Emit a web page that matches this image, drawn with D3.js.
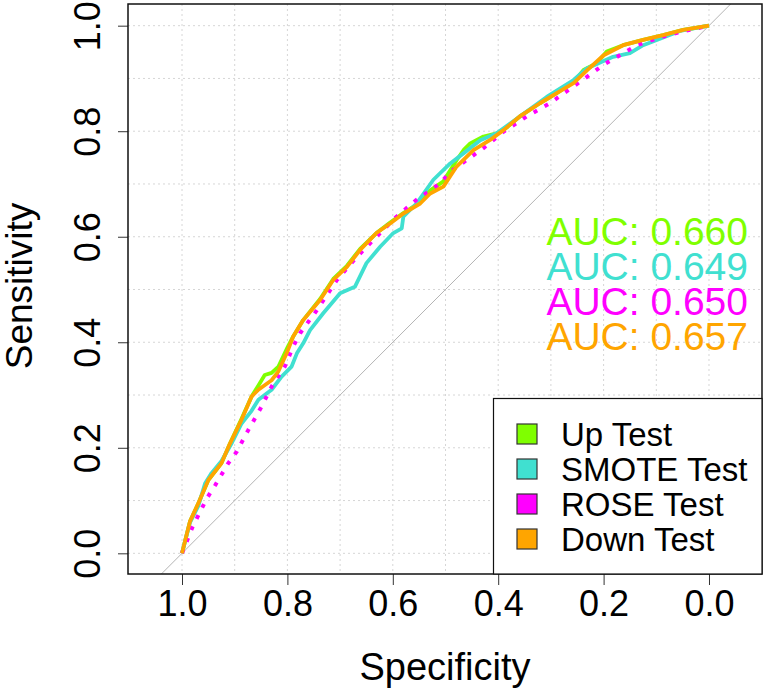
<!DOCTYPE html>
<html>
<head>
<meta charset="utf-8">
<script src="https://cdn.jsdelivr.net/npm/d3@7"></script>
<style>
	body { margin: 0; background: #fff; }
	svg { display: block; }
</style>
</head>
<body>
<div id="chart"></div>
<script>
// ROC curves, specificity on a reversed x axis

const width = 763;
const height = 691;
const plotBox = { left: 128, right: 762, top: 4, bottom: 574 };

const seriesNames = ["Up Test", "SMOTE Test", "ROSE Test", "Down Test"];
const seriesColors = ["#7FFF00", "#40E0D0", "#FF00FF", "#FFA500"];
const aucLabels = ["AUC: 0.660", "AUC: 0.649", "AUC: 0.650", "AUC: 0.657"];
const tickValues = [1.0, 0.8, 0.6, 0.4, 0.2, 0.0];
const gridValues = [0, 0.1, 0.2, 0.3, 0.4, 0.5, 0.6, 0.7, 0.8, 0.9, 1.0];

// [specificity, sensitivity]
const upTest = [[1,0],[0.985,0.06],[0.969,0.095],[0.95,0.139],[0.925,0.171],[0.909,0.208],[0.887,0.255],[0.868,0.297],[0.855,0.318],[0.843,0.338],[0.83,0.342],[0.817,0.354],[0.8,0.39],[0.789,0.411],[0.77,0.442],[0.738,0.482],[0.713,0.52],[0.687,0.545],[0.662,0.577],[0.631,0.607],[0.605,0.627],[0.58,0.645],[0.548,0.665],[0.529,0.688],[0.504,0.705],[0.479,0.745],[0.465,0.765],[0.453,0.777],[0.428,0.79],[0.403,0.796],[0.39,0.802],[0.359,0.828],[0.321,0.853],[0.289,0.872],[0.257,0.893],[0.238,0.916],[0.213,0.929],[0.194,0.951],[0.163,0.963],[0.125,0.973],[0.087,0.982],[0.049,0.992],[0,1]];
const smoteTest = [[1,0],[0.985,0.058],[0.969,0.09],[0.956,0.133],[0.944,0.152],[0.925,0.175],[0.905,0.21],[0.887,0.246],[0.868,0.27],[0.855,0.291],[0.83,0.31],[0.811,0.335],[0.792,0.354],[0.782,0.379],[0.77,0.398],[0.757,0.423],[0.732,0.455],[0.7,0.493],[0.672,0.505],[0.65,0.55],[0.624,0.581],[0.599,0.607],[0.583,0.616],[0.58,0.638],[0.555,0.663],[0.523,0.708],[0.491,0.739],[0.466,0.758],[0.434,0.783],[0.403,0.796],[0.359,0.828],[0.308,0.865],[0.257,0.897],[0.232,0.919],[0.182,0.941],[0.15,0.948],[0.125,0.963],[0.099,0.973],[0.055,0.99],[0,1]];
const roseTest = [[1,0],[0.98,0.05],[0.965,0.08],[0.953,0.104],[0.937,0.129],[0.912,0.171],[0.896,0.193],[0.874,0.234],[0.849,0.278],[0.83,0.316],[0.805,0.354],[0.789,0.392],[0.776,0.417],[0.744,0.461],[0.706,0.518],[0.668,0.562],[0.624,0.607],[0.593,0.638],[0.555,0.67],[0.51,0.701],[0.491,0.723],[0.428,0.768],[0.39,0.799],[0.346,0.828],[0.302,0.853],[0.264,0.88],[0.226,0.907],[0.2,0.926],[0.169,0.944],[0.137,0.963],[0.099,0.976],[0.055,0.988],[0,1]];
const downTest = [[1,0],[0.985,0.06],[0.969,0.095],[0.95,0.139],[0.925,0.171],[0.909,0.208],[0.887,0.253],[0.868,0.297],[0.855,0.31],[0.83,0.328],[0.817,0.345],[0.801,0.38],[0.789,0.411],[0.77,0.442],[0.738,0.48],[0.713,0.518],[0.687,0.543],[0.662,0.575],[0.631,0.607],[0.605,0.625],[0.58,0.644],[0.548,0.663],[0.529,0.682],[0.504,0.695],[0.479,0.733],[0.447,0.764],[0.416,0.783],[0.39,0.802],[0.359,0.828],[0.321,0.853],[0.289,0.872],[0.257,0.891],[0.232,0.915],[0.2,0.944],[0.163,0.963],[0.125,0.973],[0.087,0.982],[0.049,0.992],[0,1]];

const seriesData = [upTest, smoteTest, roseTest, downTest];
const seriesDash = [null, null, "4,8.5", null];

const font = "'Liberation Sans', Arial, sans-serif";

let svg;

const x = d3.scaleLinear()
	.domain([1.10247, -0.10057])
	.range([plotBox.left, plotBox.right]);

const y = d3.scaleLinear()
	.domain([-0.0392, 1.0411])
	.range([plotBox.bottom, plotBox.top]);

function configureChart() {
	svg = d3.select("#chart").append("svg")
		.attr("width", width)
		.attr("height", height)
		.attr("viewBox", [0, 0, width, height])
		.style("font-family", font);

	svg.append("rect")
		.attr("width", width)
		.attr("height", height)
		.attr("fill", "#fff");

	svg.append("clipPath")
		.attr("id", "plot-clip")
		.append("rect")
		.attr("x", plotBox.left)
		.attr("y", plotBox.top)
		.attr("width", plotBox.right - plotBox.left)
		.attr("height", plotBox.bottom - plotBox.top);
}

function drawGrid() {
	const grid = svg.append("g")
		.attr("stroke", "#d6d6d6")
		.attr("stroke-width", 1)
		.attr("stroke-dasharray", "2,3");

	grid.selectAll("line.vgrid")
		.data(gridValues)
		.join("line")
		.attr("class", "vgrid")
		.attr("x1", d => x(d))
		.attr("x2", d => x(d))
		.attr("y1", plotBox.top)
		.attr("y2", plotBox.bottom);

	grid.selectAll("line.hgrid")
		.data(gridValues)
		.join("line")
		.attr("class", "hgrid")
		.attr("x1", plotBox.left)
		.attr("x2", plotBox.right)
		.attr("y1", d => y(d))
		.attr("y2", d => y(d));

	// chance diagonal, clipped to the box
	const ends = [x.domain()[0], x.domain()[1]];
	svg.append("line")
		.attr("clip-path", "url(#plot-clip)")
		.attr("x1", x(ends[0]))
		.attr("y1", y(1 - ends[0]))
		.attr("x2", x(ends[1]))
		.attr("y2", y(1 - ends[1]))
		.attr("stroke", "#b4b4b4")
		.attr("stroke-width", 1);
}

function drawCurves() {
	const line = d3.line()
		.x(d => x(d[0]))
		.y(d => y(d[1]));

	svg.append("g")
		.attr("clip-path", "url(#plot-clip)")
		.selectAll("path")
		.data(seriesData)
		.join("path")
		.attr("d", line)
		.attr("fill", "none")
		.attr("stroke", (d, i) => seriesColors[i])
		.attr("stroke-width", (d, i) => i === 2 ? 4 : 3.8)
		.attr("stroke-linejoin", "round")
		.attr("stroke-dasharray", (d, i) => seriesDash[i]);
}

function drawAxes() {
	svg.append("g")
		.attr("transform", `translate(0,${plotBox.bottom})`)
		.call(d3.axisBottom(x).tickValues(tickValues).tickFormat(d3.format(".1f")).tickSize(11).tickPadding(5))
		.call(g => g.select(".domain").remove())
		.call(g => g.selectAll(".tick line").attr("stroke", "#333"))
		.call(g => g.selectAll("text")
			.attr("font-family", font)
			.attr("font-size", 36)
			.attr("fill", "#000"));

	const yAxis = svg.append("g")
		.attr("transform", `translate(${plotBox.left},0)`)
		.call(d3.axisLeft(y).tickValues(tickValues).tickFormat(d3.format(".1f")).tickSize(10))
		.call(g => g.select(".domain").remove())
		.call(g => g.selectAll(".tick line").attr("stroke", "#333"));

	yAxis.selectAll("text")
		.attr("font-family", font)
		.attr("font-size", 36)
		.attr("fill", "#000")
		.attr("x", null)
		.attr("dy", null)
		.attr("text-anchor", "middle")
		.attr("transform", `translate(${100 - plotBox.left},0) rotate(-90)`);

	svg.append("rect")
		.attr("x", plotBox.left)
		.attr("y", plotBox.top)
		.attr("width", plotBox.right - plotBox.left)
		.attr("height", plotBox.bottom - plotBox.top)
		.attr("fill", "none")
		.attr("stroke", "#111")
		.attr("stroke-width", 1.5);

	svg.append("text")
		.attr("x", (plotBox.left + plotBox.right) / 2)
		.attr("y", 680)
		.attr("text-anchor", "middle")
		.attr("font-size", 38)
		.text("Specificity");

	svg.append("text")
		.attr("transform", `translate(32,${(plotBox.top + plotBox.bottom) / 2 - 3}) rotate(-90)`)
		.attr("text-anchor", "middle")
		.attr("font-size", 37)
		.text("Sensitivity");
}

function drawLabels() {
	svg.append("g")
		.selectAll("text")
		.data(aucLabels)
		.join("text")
		.attr("x", 748)
		.attr("y", (d, i) => 245 + i * 35)
		.attr("text-anchor", "end")
		.attr("font-size", 39)
		.attr("fill", (d, i) => seriesColors[i])
		.text(d => d);

	const legend = svg.append("g");

	legend.append("rect")
		.attr("x", 493.5)
		.attr("y", 398.5)
		.attr("width", plotBox.right - 493.5)
		.attr("height", plotBox.bottom - 398.5)
		.attr("fill", "#fff")
		.attr("stroke", "#111")
		.attr("stroke-width", 1.2);

	const rows = legend.selectAll("g.row")
		.data(seriesNames)
		.join("g")
		.attr("class", "row")
		.attr("transform", (d, i) => `translate(0,${434 + i * 35})`);

	rows.append("rect")
		.attr("x", 517)
		.attr("y", -10)
		.attr("width", 20)
		.attr("height", 20)
		.attr("fill", (d, i) => seriesColors[i])
		.attr("stroke", "#333")
		.attr("stroke-width", 1.2);

	rows.append("text")
		.attr("x", 561)
		.attr("y", 12)
		.attr("font-size", 33)
		.attr("fill", "#000")
		.text(d => d);
}

configureChart();
drawGrid();
drawCurves();
drawAxes();
drawLabels();
</script>
</body>
</html>
